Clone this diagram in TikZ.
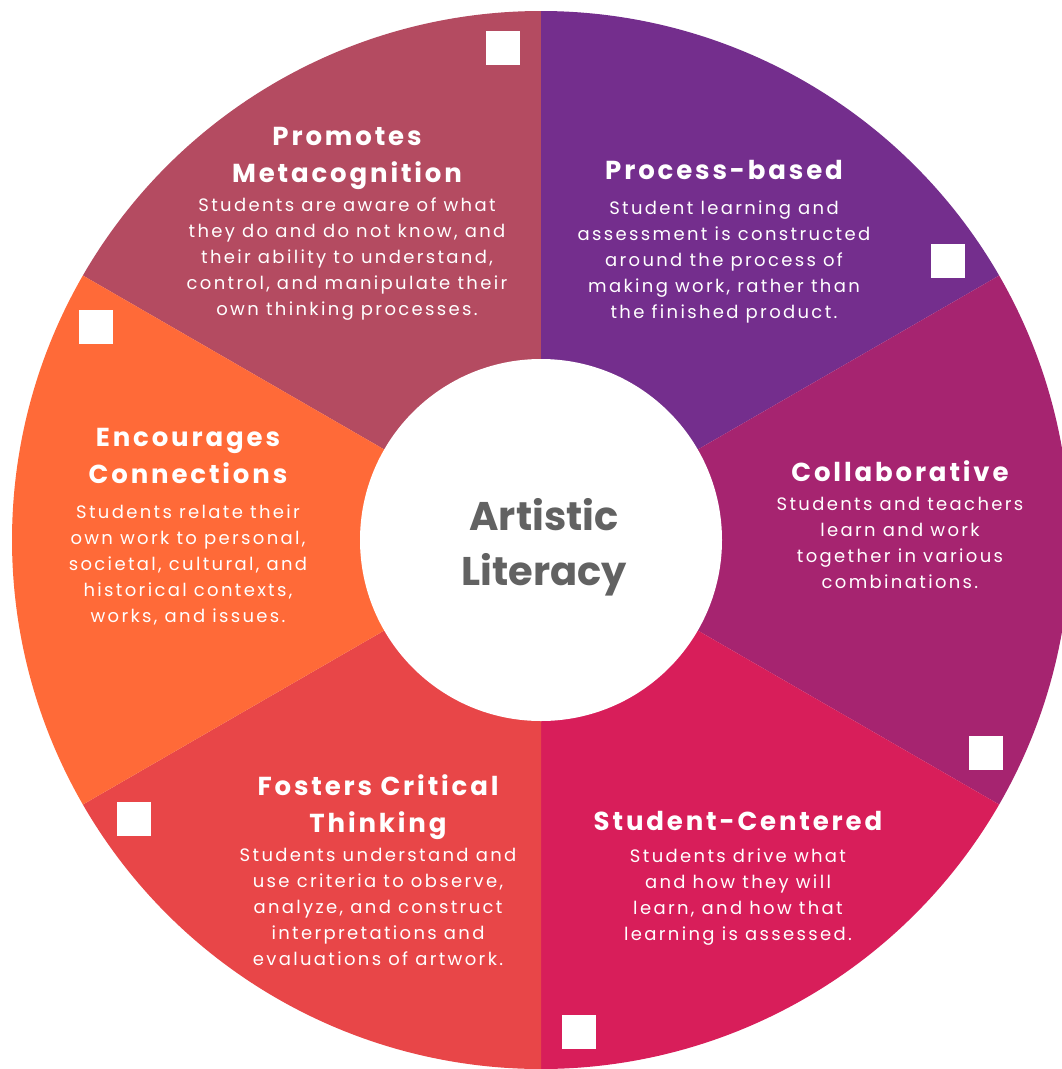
\documentclass[tikz,border=0pt]{standalone}
\usepackage{fontspec}
\setmainfont{Poppins}
\newfontfamily\headfont[LetterSpace=11]{Poppins}
\newfontfamily\bodyfont[LetterSpace=13]{Poppins}
\usetikzlibrary{positioning}
\usetikzlibrary{calc}
\definecolor{colmeta}{RGB}{180,75,97}
\definecolor{colproc}{RGB}{116,46,141}
\definecolor{colcollab}{RGB}{166,36,112}
\definecolor{colcent}{RGB}{216,30,90}
\definecolor{colcrit}{RGB}{232,70,72}
\definecolor{colconn}{RGB}{255,106,56}
\definecolor{colhub}{RGB}{98,98,98}
\tikzset{
  wedgetitle/.style={text=white, align=center, inner sep=0pt, text depth=8pt,
    font=\headfont\bfseries\fontsize{26}{37}\selectfont},
  wedgebody/.style={text=white, align=center, inner sep=0pt,
    font=\bodyfont\fontsize{18}{26}\selectfont},
  corner/.style={fill=white, minimum size=34pt, inner sep=0pt}
}

\begin{document}
\begin{tikzpicture}[x=1pt, y=1pt]

  % ============================ Wheel =========================================

  \clip (0,0) rectangle (1062,-1069);
  \fill[white] (0,0) rectangle (1062,-1069);
  \coordinate (c) at (541,-540);
  \foreach \a/\col in {90/colmeta, 30/colproc, -30/colcollab, -90/colcent,
                       -150/colcrit, 150/colconn} {
    \fill[\col] (c) -- ++(\a:529) arc[start angle=\a, end angle=\a+60, radius=529] -- cycle;
    \node[corner] at ($(c)+(\a+4.4:493)$) {};
  }
  \node[circle, fill=white, minimum size=362pt, inner sep=0pt] (hub) at (c) {};
  \node[align=center, text=colhub, font=\bfseries\fontsize{40}{55}\selectfont]
    (hubtxt) at ([xshift=3pt, yshift=-7pt]hub.center) {Artistic\\Literacy};

  % ============================ Segments ======================================

  \node[wedgetitle] (meta) at (347,-159) {Promotes\\Metacognition};
  \node[wedgebody, below=7pt of meta] (metatxt)
    {Students are aware of what\\they do and do not know, and\\their ability to understand,\\control, and manipulate their\\own thinking processes.};

  \node[wedgetitle] (proc) at (724,-174) {Process-based};
  \node[wedgebody, below=13pt of proc] (proctxt)
    {Student learning and\\assessment is constructed\\around the process of\\making work, rather than\\the finished product.};

  \node[wedgetitle] (collab) at (900,-475) {Collaborative};
  \node[wedgebody, below=7pt of collab] (collabtxt)
    {Students and teachers\\learn and work\\together in various\\combinations.};

  \node[wedgetitle] (cent) at (738,-825) {Student-Centered};
  \node[wedgebody, below=10pt of cent] (centtxt)
    {Students drive what\\and how they will\\learn, and how that\\learning is assessed.};

  \node[wedgetitle] (crit) at (378,-808) {Fosters Critical\\Thinking};
  \node[wedgebody, below=7pt of crit] (crittxt)
    {Students understand and\\use criteria to observe,\\analyze, and construct\\interpretations and\\evaluations of artwork.};

  \node[wedgetitle] (conn) at (188,-460) {Encourages\\Connections};
  \node[wedgebody, below=13pt of conn] (conntxt)
    {Students relate their\\own work to personal,\\societal, cultural, and\\historical contexts,\\works, and issues.};

\end{tikzpicture}
\end{document}
